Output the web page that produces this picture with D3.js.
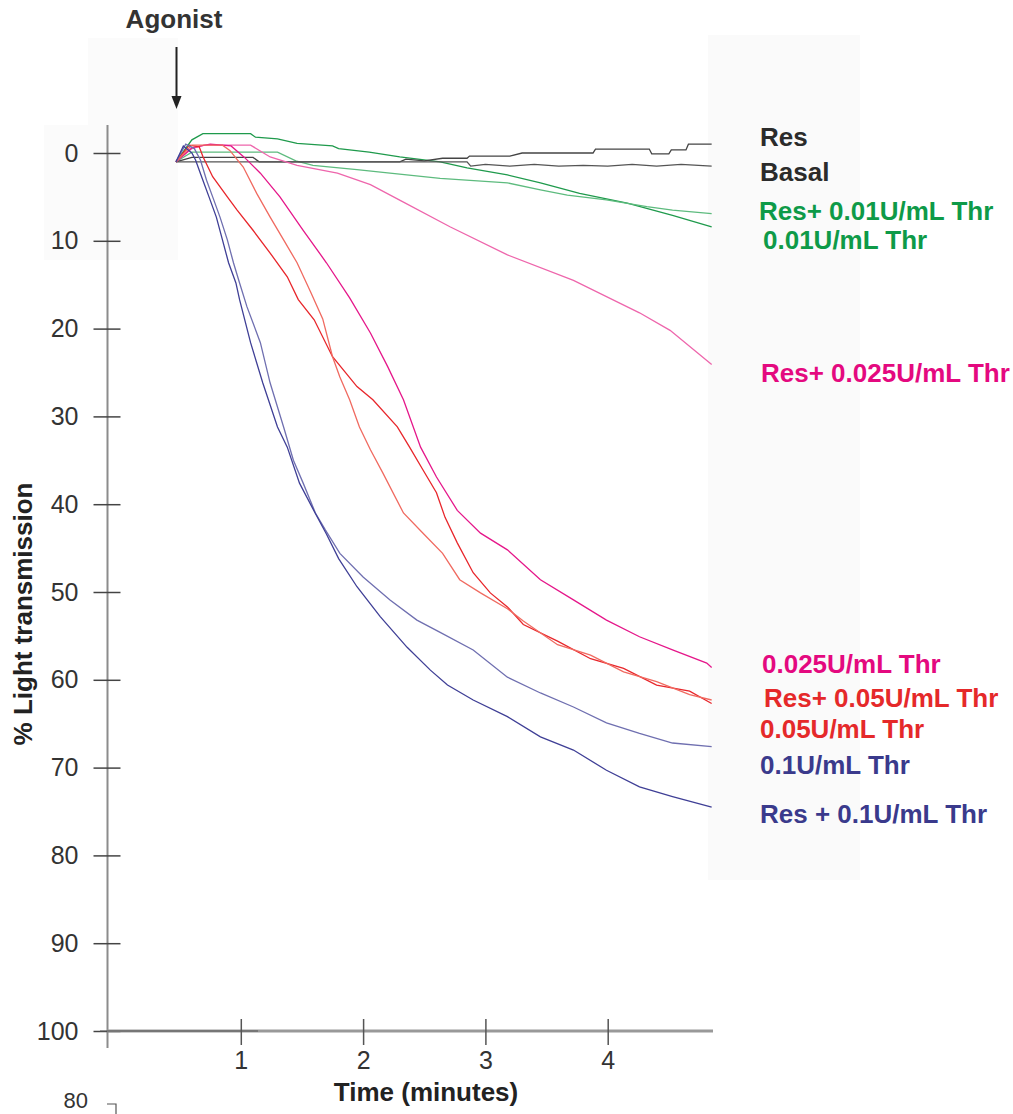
<!DOCTYPE html>
<html>
<head>
<meta charset="utf-8">
<script src="https://cdn.jsdelivr.net/npm/d3@7"></script>
<style>
body { margin: 0; background: #fff; }
text { font-family: "Liberation Sans", Arial, sans-serif; }
</style>
</head>
<body>
<div id="chart"></div>
<script>
// [time (min), % light transmission]
var basal = [[0.47,1.0],[2.85,1.0],[2.88,1.5],[3.0,1.3],[3.2,1.5],[3.4,1.3],[3.6,1.5],[3.8,1.4],[4.0,1.5],[4.2,1.3],[4.4,1.5],[4.6,1.3],[4.85,1.5]]
var res = [[0.47,1.0],[0.6,0.5],[1.1,0.5],[1.15,1.0],[2.3,1.0],[2.35,0.7],[2.5,0.9],[2.65,0.6],[2.85,0.6],[2.87,0.35],[3.2,0.35],[3.3,0.0],[3.88,0.0],[3.9,-0.45],[4.34,-0.45],[4.36,0.1],[4.5,0.1],[4.52,-0.35],[4.64,-0.35],[4.66,-1.0],[4.85,-1.0]]
var thr001 = [[0.47,1.0],[0.6,-1.5],[0.69,-2.2],[1.08,-2.2],[1.12,-1.8],[1.3,-1.6],[1.46,-1.1],[1.75,-0.8],[1.8,-0.5],[2.05,-0.1],[2.3,0.45],[2.63,1.0],[2.85,1.7],[3.18,2.5],[3.45,3.4],[3.77,4.6],[4.16,5.7],[4.53,7.1],[4.85,8.4]]
var resThr001 = [[0.47,1.0],[0.6,-0.1],[1.3,-0.1],[1.45,0.9],[1.59,1.4],[1.95,1.9],[2.22,2.3],[2.63,2.9],[3.18,3.4],[3.45,4.2],[3.67,4.8],[3.99,5.35],[4.32,6.1],[4.53,6.5],[4.85,6.9]]
var resThr0025 = [[0.47,1.0],[0.6,-0.5],[0.7,-0.9],[1.08,-0.9],[1.24,0.45],[1.46,1.4],[1.79,2.3],[2.06,3.6],[2.33,5.6],[2.71,8.4],[3.18,11.6],[3.72,14.5],[4.26,18.2],[4.51,20.2],[4.85,24.1]]
var thr0025 = [[0.47,1.0],[0.6,-0.6],[0.75,-1.0],[0.92,-0.8],[1.03,0.5],[1.16,2.3],[1.32,5.0],[1.51,8.8],[1.7,12.5],[1.89,16.5],[2.06,20.5],[2.2,24.3],[2.33,28.1],[2.47,33.5],[2.6,36.9],[2.77,40.7],[2.96,43.3],[3.18,45.2],[3.45,48.6],[3.72,50.9],[3.99,53.2],[4.26,55.1],[4.53,56.6],[4.81,58.1],[4.85,58.6]]
var thr005 = [[0.47,1.0],[0.58,-0.9],[0.66,-0.7],[0.69,0.4],[0.77,2.7],[0.89,5.0],[0.97,6.5],[1.1,8.8],[1.24,11.4],[1.38,14.1],[1.47,16.7],[1.6,19.0],[1.75,23.2],[1.95,26.6],[2.08,28.1],[2.28,31.2],[2.38,33.5],[2.49,36.1],[2.6,38.7],[2.67,41.5],[2.77,44.4],[2.9,47.8],[3.04,50.1],[3.18,51.7],[3.31,53.7],[3.59,55.6],[3.86,57.6],[4.13,58.7],[4.4,60.6],[4.67,61.3],[4.85,62.7]]
var resThr005 = [[0.47,1.0],[0.6,-0.9],[0.85,-0.9],[0.91,-0.3],[1.02,1.6],[1.13,4.6],[1.24,7.3],[1.35,9.9],[1.46,12.5],[1.57,15.8],[1.67,18.9],[1.75,23.2],[1.81,25.5],[1.89,28.1],[1.97,31.2],[2.06,33.8],[2.16,36.4],[2.33,41.0],[2.49,43.3],[2.65,45.6],[2.79,48.6],[2.96,50.1],[3.18,51.9],[3.31,53.3],[3.59,56.0],[3.86,57.2],[4.13,59.1],[4.4,60.2],[4.67,61.7],[4.85,62.3]]
var thr01 = [[0.47,1.0],[0.55,-1.0],[0.62,-0.5],[0.67,0.8],[0.72,3.1],[0.77,5.0],[0.83,7.3],[0.89,9.9],[0.94,12.5],[0.99,14.8],[1.05,17.5],[1.16,21.6],[1.24,26.2],[1.35,31.2],[1.43,35.0],[1.51,37.6],[1.61,41.0],[1.69,42.9],[1.81,45.6],[2.0,48.3],[2.22,50.9],[2.44,53.2],[2.63,54.6],[2.9,56.6],[3.18,59.7],[3.45,61.5],[3.72,63.1],[3.99,64.9],[4.26,66.1],[4.53,67.2],[4.85,67.6]]
var resThr01 = [[0.47,1.0],[0.53,-0.8],[0.6,0.0],[0.63,0.8],[0.69,3.1],[0.74,5.0],[0.8,7.3],[0.85,9.9],[0.9,12.5],[0.96,14.8],[0.99,16.7],[1.08,21.6],[1.18,26.2],[1.3,31.2],[1.38,33.5],[1.48,37.6],[1.6,40.8],[1.7,43.4],[1.8,46.2],[1.95,49.4],[2.14,52.8],[2.36,56.3],[2.55,58.9],[2.69,60.6],[2.9,62.3],[3.18,64.2],[3.45,66.5],[3.72,68.0],[3.99,70.3],[4.26,72.2],[4.53,73.3],[4.85,74.5]]

var yTicks = [0, 10, 20, 30, 40, 50, 60, 70, 80, 90, 100]
var xTicks = [1, 2, 3, 4]

var series = [
  {data: thr001, color: "#1f9a4c"},
  {data: resThr001, color: "#5dbb7e"},
  {data: res, color: "#444"},
  {data: basal, color: "#555"},
  {data: resThr0025, color: "#ee66ac"},
  {data: thr0025, color: "#e5178a"},
  {data: thr005, color: "#e8262b"},
  {data: resThr005, color: "#f06a60"},
  {data: thr01, color: "#6f6fb0"},
  {data: resThr01, color: "#3f3f96"}
]

// labels on the right, top to bottom
var labels = [
  {text: "Res", color: "#2b2b2b", x: 760, y: 146},
  {text: "Basal", color: "#2b2b2b", x: 760, y: 181},
  {text: "Res+ 0.01U/mL Thr", color: "#0e9a48", x: 759, y: 220},
  {text: "0.01U/mL Thr", color: "#0e9a48", x: 763, y: 249},
  {text: "Res+ 0.025U/mL Thr", color: "#e4097f", x: 761, y: 382},
  {text: "0.025U/mL Thr", color: "#e4097f", x: 762, y: 673},
  {text: "Res+ 0.05U/mL Thr", color: "#e5292a", x: 764, y: 707},
  {text: "0.05U/mL Thr", color: "#e5292a", x: 760, y: 738},
  {text: "0.1U/mL Thr", color: "#3a3a8c", x: 760, y: 774},
  {text: "Res + 0.1U/mL Thr", color: "#3a3a8c", x: 760, y: 823}
]

var svg = d3.select("#chart").append("svg").attr("width", 1013).attr("height", 1114)

var x = d3.scaleLinear().domain([0, 4]).range([118.5, 607.7])
var y = d3.scaleLinear().domain([0, 100]).range([153, 1031])

// faint scan patches
svg.append("rect").attr("x", 708).attr("y", 35).attr("width", 152).attr("height", 845).attr("fill", "#fafafa")
svg.append("rect").attr("x", 88).attr("y", 38).attr("width", 90).attr("height", 88).attr("fill", "#fbfbfb")
svg.append("rect").attr("x", 44).attr("y", 125).attr("width", 134).attr("height", 135).attr("fill", "#fbfbfb")

// y axis
svg.append("line")
    .attr("x1", 107.5).attr("x2", 107.5)
    .attr("y1", 125).attr("y2", 1048)
    .attr("stroke", "#8c8c8c").attr("stroke-width", 2)

var yAxis = svg.append("g")
    .attr("transform", "translate(107.5,0)")
    .call(d3.axisLeft(y).tickValues(yTicks).tickSize(0).tickPadding(29))
yAxis.select(".domain").remove()
yAxis.selectAll(".tick line").attr("x1", -14).attr("x2", 13).attr("stroke", "#444").attr("stroke-width", 1.5)
yAxis.selectAll(".tick text").attr("font-size", 25).attr("fill", "#333")
    .attr("font-family", "Liberation Sans, Arial, sans-serif")

// x axis
svg.append("line")
    .attr("x1", 107).attr("x2", 713)
    .attr("y1", 1031).attr("y2", 1031)
    .attr("stroke", "#999").attr("stroke-width", 3)
svg.append("line")
    .attr("x1", 100).attr("x2", 258)
    .attr("y1", 1031).attr("y2", 1031)
    .attr("stroke", "#555").attr("stroke-width", 1.2)

var xAxis = svg.append("g")
    .attr("transform", "translate(0,1031)")
    .call(d3.axisBottom(x).tickValues(xTicks).tickFormat(d3.format("d")).tickSize(0).tickPadding(20))
xAxis.select(".domain").remove()
xAxis.selectAll(".tick line").attr("y1", -12).attr("y2", 14).attr("stroke", "#555").attr("stroke-width", 1.5)
xAxis.selectAll(".tick text").attr("font-size", 25).attr("fill", "#333")
    .attr("font-family", "Liberation Sans, Arial, sans-serif")

// traces
var line = d3.line()
    .x(function(d) { return x(d[0]) })
    .y(function(d) { return y(d[1]) })

svg.selectAll(".trace")
    .data(series)
    .enter().append("path")
    .attr("class", "trace")
    .attr("d", function(d) { return line(d.data) })
    .attr("fill", "none")
    .attr("stroke", function(d) { return d.color })
    .attr("stroke-width", 1.3)

// right-hand labels
svg.selectAll(".lbl")
    .data(labels)
    .enter().append("text")
    .attr("class", "lbl")
    .attr("x", function(d) { return d.x })
    .attr("y", function(d) { return d.y })
    .attr("fill", function(d) { return d.color })
    .attr("font-size", 26)
    .attr("font-weight", "bold")
    .text(function(d) { return d.text })

// titles
svg.append("text")
    .attr("x", 426).attr("y", 1101)
    .attr("text-anchor", "middle")
    .attr("font-size", 26).attr("font-weight", "bold").attr("fill", "#222")
    .text("Time (minutes)")

svg.append("text")
    .attr("transform", "translate(32,614) rotate(-90)")
    .attr("text-anchor", "middle")
    .attr("font-size", 26).attr("font-weight", "bold").attr("fill", "#222")
    .text("% Light transmission")

// agonist arrow
svg.append("text")
    .attr("x", 174).attr("y", 28)
    .attr("text-anchor", "middle")
    .attr("font-size", 26).attr("font-weight", "bold").attr("fill", "#333")
    .text("Agonist")
svg.append("line")
    .attr("x1", 176.5).attr("x2", 176.5)
    .attr("y1", 47).attr("y2", 100)
    .attr("stroke", "#222").attr("stroke-width", 2)
svg.append("path")
    .attr("d", "M171.5,96 L176.5,109 L181.5,96 Z")
    .attr("fill", "#222")

// start of next panel at the bottom edge
svg.append("text")
    .attr("x", 88).attr("y", 1108)
    .attr("text-anchor", "end")
    .attr("font-size", 22).attr("fill", "#333")
    .text("80")
svg.append("path")
    .attr("d", "M107,1104 H116 V1114")
    .attr("fill", "none").attr("stroke", "#555").attr("stroke-width", 1.2)
</script>
</body>
</html>
